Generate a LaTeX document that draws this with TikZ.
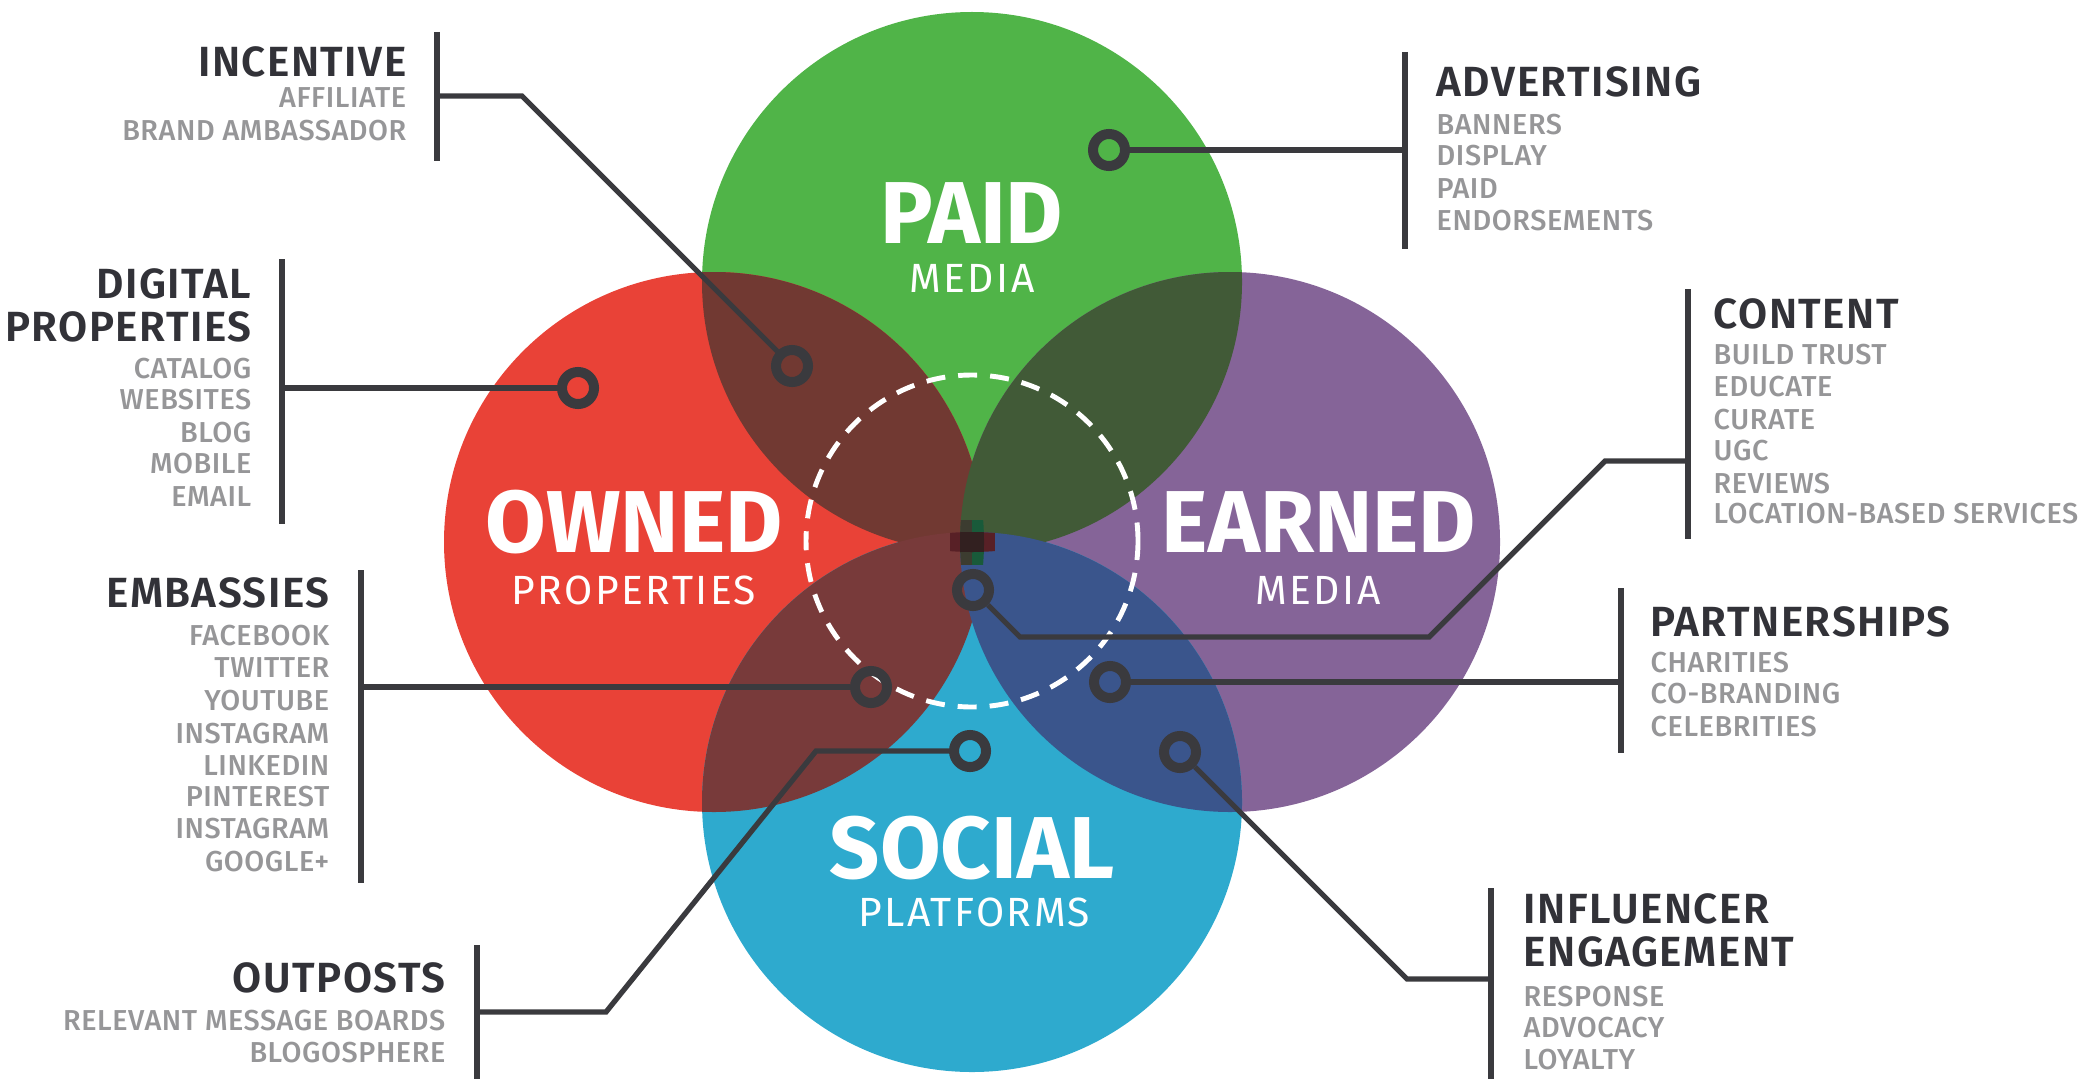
\documentclass[tikz,border=0pt]{standalone}
\usepackage{fontspec}
\setmainfont{Fira Sans}
\newfontfamily\headfont{Fira Sans SemiBold}[LetterSpace=3.5]
\newfontfamily\itemfont{Fira Sans Medium}[LetterSpace=2]
\newfontfamily\subfont{Fira Sans}[LetterSpace=6]
\usepackage{xcolor}

\definecolor{paidgreen}{RGB}{80,180,72}
\definecolor{ownedred}{RGB}{233,66,55}
\definecolor{earnedpurple}{RGB}{133,100,152}
\definecolor{socialblue}{RGB}{46,170,206}
\definecolor{redgreen}{RGB}{113,57,50}
\definecolor{greenpurple}{RGB}{65,90,55}
\definecolor{redblue}{RGB}{120,58,58}
\definecolor{bluepurple}{RGB}{58,85,140}
\definecolor{lensleft}{RGB}{60,60,48}
\definecolor{lensright}{RGB}{25,90,58}
\definecolor{lensmid}{RGB}{88,32,38}
\definecolor{lenscore}{RGB}{50,32,32}
\definecolor{linegray}{RGB}{58,58,62}
\definecolor{headgray}{RGB}{50,50,56}
\definecolor{itemgray}{RGB}{150,150,152}

\begin{document}
\begin{tikzpicture}[x=0.01cm,y=-0.01cm,
head/.style={font=\headfont\fontsize{12}{12}\selectfont,text=headgray,inner sep=0pt},
item/.style={font=\itemfont\fontsize{8.2}{8}\selectfont,text=itemgray,inner sep=0pt},
big/.style={font=\bfseries\fontsize{25}{25}\selectfont,text=white,inner sep=0pt,anchor=base},
small/.style={font=\subfont\fontsize{11.6}{12}\selectfont,text=white,inner sep=0pt,anchor=base},
bar/.style={linegray,line width=1.7pt},
wire/.style={linegray,line width=1.5pt},
ring/.style={circle,draw=linegray,line width=2.85pt,minimum size=0.32cm,inner sep=0pt},
]

\useasboundingbox (0,0) rectangle (2080,1079);

\coordinate (P) at (972,282);
\coordinate (O) at (714,542);
\coordinate (E) at (1230,542);
\coordinate (S) at (972,802);

\fill[paidgreen] (P) circle[radius=270];
\fill[ownedred] (O) circle[radius=270];
\fill[earnedpurple] (E) circle[radius=270];
\fill[socialblue] (S) circle[radius=270];

\begin{scope}
\clip (O) circle[radius=270];
\fill[redgreen] (P) circle[radius=270];
\fill[redblue] (S) circle[radius=270];
\end{scope}
\begin{scope}
\clip (E) circle[radius=270];
\fill[greenpurple] (P) circle[radius=270];
\fill[bluepurple] (S) circle[radius=270];
\end{scope}
\begin{scope}
\clip (O) circle[radius=270];
\clip (E) circle[radius=270];
\fill[lensleft] (880,520) rectangle (972,565);
\fill[lensright] (972,520) rectangle (1060,565);
\end{scope}
\begin{scope}
\clip (P) circle[radius=270];
\clip (S) circle[radius=270];
\fill[lensmid] (950,450) rectangle (995,635);
\clip (O) circle[radius=270];
\clip (E) circle[radius=270];
\fill[lenscore] (950,520) rectangle (995,565);
\end{scope}

%\draw[help lines,yellow,thin] (0,0) grid[step=100] (2080,1079);

\draw[white,line width=1.4pt,dash pattern=on 0.19cm off 0.13cm] (972,541) circle[radius=166];

\node[big] (paid) at (972,243) {PAID};
\node[small] (paidsub) at (972,292) {MEDIA};
\node[big] (owned) at (634,552) {OWNED};
\node[small] (ownedsub) at (634,604) {PROPERTIES};
\node[big] (earned) at (1319,552) {EARNED};
\node[small] (earnedsub) at (1318,604) {MEDIA};
\node[big] (social) at (972,878) {SOCIAL};
\node[small] (socialsub) at (974,926) {PLATFORMS};

\node[ring] (dinc) at (792,366) {};
\node[ring] (ddig) at (578,388) {};
\node[ring] (demb) at (871,687) {};
\node[ring] (dout) at (970,751) {};
\node[ring] (dadv) at (1109,150) {};
\node[ring] (dcon) at (973,590) {};
\node[ring] (dpar) at (1110,682) {};
\node[ring] (dinf) at (1180,752) {};

\node[head,anchor=base east] (inc) at (407,77) {INCENTIVE};
\node[item,anchor=base east] (inc1) at (407,107) {AFFILIATE};
\node[item,anchor=base east] (inc2) at (407,140) {BRAND AMBASSADOR};

\node[head,anchor=base east] (dig) at (252,298) {DIGITAL};
\node[head,anchor=base east] (dig0) at (252,341) {PROPERTIES};
\node[item,anchor=base east] (dig1) at (252,378) {CATALOG};
\node[item,anchor=base east] (dig2) at (252,409) {WEBSITES};
\node[item,anchor=base east] (dig3) at (252,442) {BLOG};
\node[item,anchor=base east] (dig4) at (252,473) {MOBILE};
\node[item,anchor=base east] (dig5) at (252,506) {EMAIL};

\node[head,anchor=base east] (emb) at (330,607) {EMBASSIES};
\node[item,anchor=base east] (emb1) at (330,645) {FACEBOOK};
\node[item,anchor=base east] (emb2) at (330,677) {TWITTER};
\node[item,anchor=base east] (emb3) at (330,710) {YOUTUBE};
\node[item,anchor=base east] (emb4) at (330,743) {INSTAGRAM};
\node[item,anchor=base east] (emb5) at (330,775) {LINKEDIN};
\node[item,anchor=base east] (emb6) at (330,806) {PINTEREST};
\node[item,anchor=base east] (emb7) at (330,838) {INSTAGRAM};
\node[item,anchor=base east] (emb8) at (330,871) {GOOGLE+};

\node[head,anchor=base east] (out) at (446,992) {OUTPOSTS};
\node[item,anchor=base east] (out1) at (446,1030) {RELEVANT MESSAGE BOARDS};
\node[item,anchor=base east] (out2) at (446,1062) {BLOGOSPHERE};

\node[head,anchor=base west] (adv) at (1436,97) {ADVERTISING};
\node[item,anchor=base west] (adv1) at (1436,135) {BANNERS};
\node[item,anchor=base west] (adv2) at (1436,166) {DISPLAY};
\node[item,anchor=base west] (adv3) at (1436,199) {PAID};
\node[item,anchor=base west] (adv4) at (1436,230) {ENDORSEMENTS};

\node[head,anchor=base west] (con) at (1713,328) {CONTENT};
\node[item,anchor=base west] (con1) at (1713,364) {BUILD TRUST};
\node[item,anchor=base west] (con2) at (1713,396) {EDUCATE};
\node[item,anchor=base west] (con3) at (1713,429) {CURATE};
\node[item,anchor=base west] (con4) at (1713,460) {UGC};
\node[item,anchor=base west] (con5) at (1713,493) {REVIEWS};
\node[item,anchor=base west] (con6) at (1713,523) {LOCATION-BASED SERVICES};

\node[head,anchor=base west] (par) at (1650,636) {PARTNERSHIPS};
\node[item,anchor=base west] (par1) at (1650,672) {CHARITIES};
\node[item,anchor=base west] (par2) at (1650,703) {CO-BRANDING};
\node[item,anchor=base west] (par3) at (1650,736) {CELEBRITIES};

\node[head,anchor=base west] (inf) at (1523,923) {INFLUENCER};
\node[head,anchor=base west] (inf0) at (1523,966) {ENGAGEMENT};
\node[item,anchor=base west] (inf1) at (1523,1006) {RESPONSE};
\node[item,anchor=base west] (inf2) at (1523,1037) {ADVOCACY};
\node[item,anchor=base west] (inf3) at (1523,1069) {LOYALTY};

\coordinate (incT) at (437,32);
\coordinate (incB) at (437,161);
\coordinate (incJ) at (437,96);
\coordinate (incC) at (522,96);
\coordinate (digT) at (282,259);
\coordinate (digB) at (282,524);
\coordinate (digJ) at (282,388);
\coordinate (embT) at (361,570);
\coordinate (embB) at (361,883);
\coordinate (embJ) at (361,687);
\coordinate (outT) at (477,945);
\coordinate (outB) at (477,1079);
\coordinate (outJ) at (477,1012);
\coordinate (outC) at (606,1012);
\coordinate (outD) at (816,751);
\coordinate (advT) at (1405,52);
\coordinate (advB) at (1405,249);
\coordinate (advJ) at (1405,150);
\coordinate (conT) at (1688,289);
\coordinate (conB) at (1688,539);
\coordinate (conJ) at (1688,461);
\coordinate (conC) at (1605,461);
\coordinate (conD) at (1429,637);
\coordinate (conE) at (1020,637);
\coordinate (parT) at (1621,588);
\coordinate (parB) at (1621,753);
\coordinate (parJ) at (1621,682);
\coordinate (infT) at (1491,888);
\coordinate (infB) at (1491,1079);
\coordinate (infJ) at (1491,979);
\coordinate (infC) at (1407,979);

\draw[bar] (incT) -- (incB);
\draw[bar] (digT) -- (digB);
\draw[bar] (embT) -- (embB);
\draw[bar] (outT) -- (outB);
\draw[bar] (advT) -- (advB);
\draw[bar] (conT) -- (conB);
\draw[bar] (parT) -- (parB);
\draw[bar] (infT) -- (infB);

\draw[wire] (incJ) -- (incC) -- (dinc);
\draw[wire] (digJ) -- (ddig);
\draw[wire] (embJ) -- (demb);
\draw[wire] (outJ) -- (outC) -- (outD) -- (dout);
\draw[wire] (advJ) -- (dadv);
\draw[wire] (conJ) -- (conC) -- (conD) -- (conE) -- (dcon);
\draw[wire] (parJ) -- (dpar);
\draw[wire] (infJ) -- (infC) -- (dinf);
\end{tikzpicture}
\end{document}
